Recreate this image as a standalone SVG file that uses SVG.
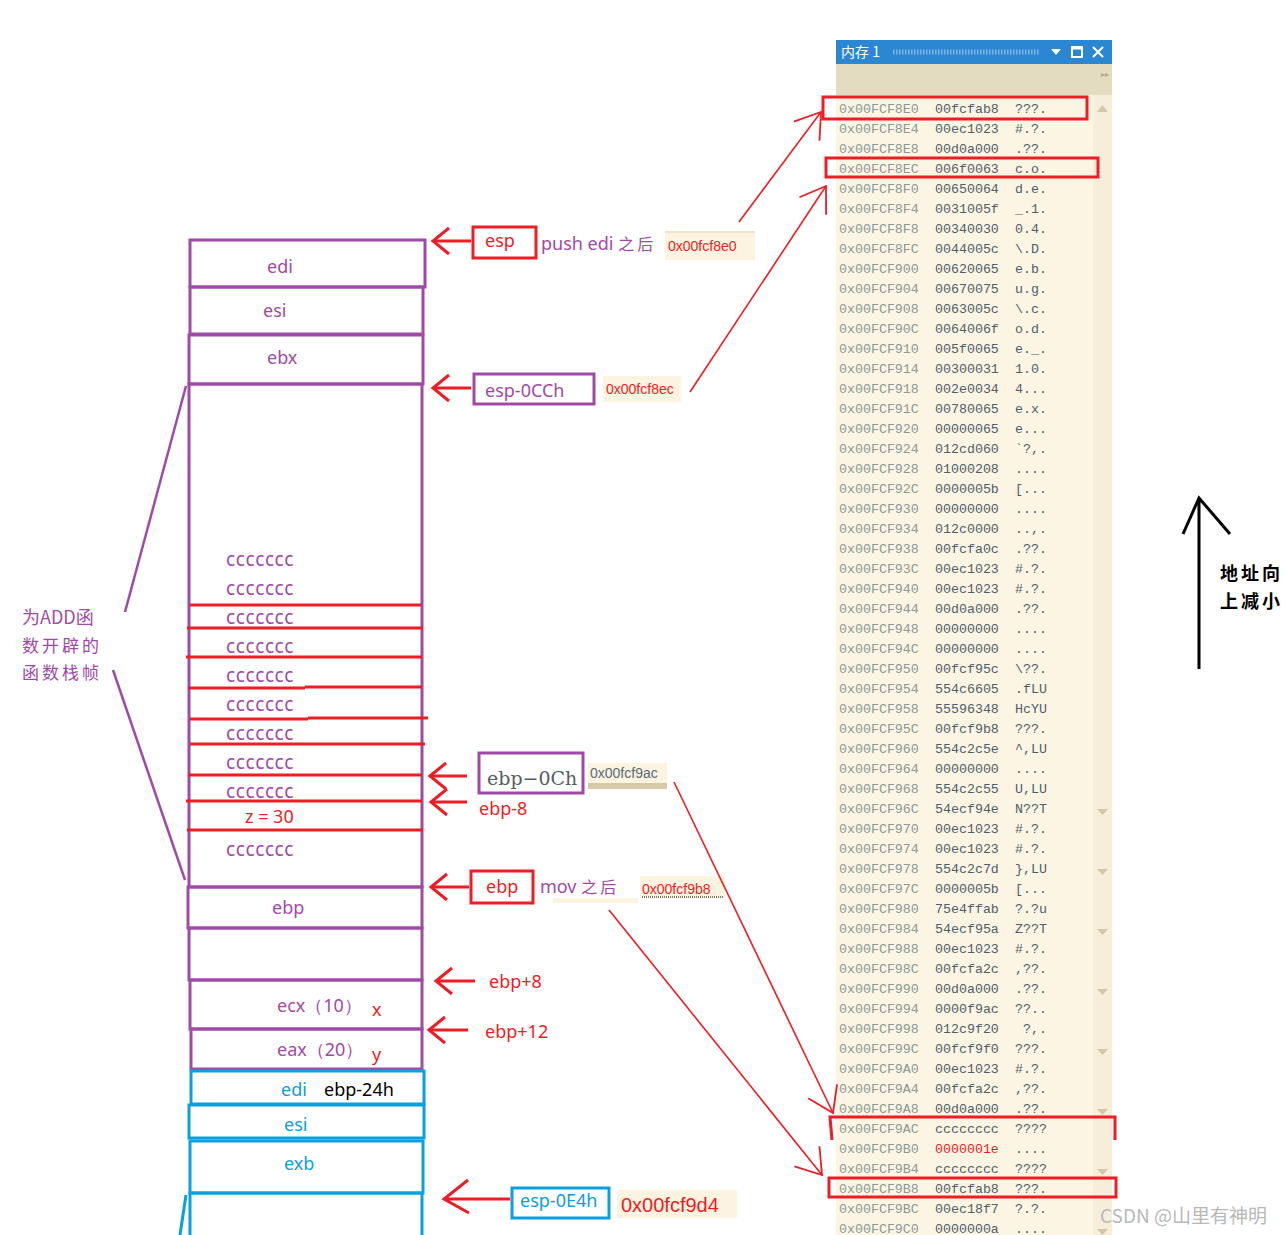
<svg xmlns="http://www.w3.org/2000/svg" width="1286" height="1235" viewBox="0 0 1286 1235">
<defs>
<style>
.pu{fill:none;stroke:#a04aa8;stroke-width:3}
.bl{fill:none;stroke:#0aa0e0;stroke-width:3}
.rl{fill:none;stroke:#ee1c25;stroke-width:3}
.rt{fill:none;stroke:#ee1c25;stroke-width:1.6}
.ptx{font-family:"Noto Sans","Liberation Sans",sans-serif;font-size:18px;fill:#a04aa8}
.rtx{font-family:"Noto Sans","Liberation Sans",sans-serif;font-size:18px;fill:#ee1c25}
.btx{font-family:"Noto Sans","Liberation Sans",sans-serif;font-size:18px;fill:#0aa0e0}
.cc{font-family:"Noto Sans","Liberation Sans",sans-serif;font-size:19px;fill:#a04aa8;letter-spacing:0.6px}
.addr{font-family:"Liberation Mono",monospace;font-size:13.3px;fill:#8a9898}
.val{font-family:"Liberation Mono",monospace;font-size:13.3px;fill:#4e5e6a}
.asc{font-family:"Liberation Mono",monospace;font-size:13.3px;fill:#4e5e6a}
.hx{font-family:"Liberation Sans",sans-serif;font-size:14px;fill:#ee1c25}
.cj{font-family:"Noto Sans CJK SC",sans-serif}
.cream{fill:#fcf4e0}
.tri{fill:#d2c8a8}
</style>
<marker id="la" markerUnits="userSpaceOnUse" markerWidth="40" markerHeight="40" refX="0" refY="0" viewBox="-20 -20 40 40" orient="auto" overflow="visible">
<path d="M-16,-13 L0,0 L-16,13" fill="none" stroke="#ee1c25" stroke-width="3"/>
</marker>
<marker id="ta" markerUnits="userSpaceOnUse" markerWidth="60" markerHeight="60" refX="0" refY="0" viewBox="-30 -30 60 60" orient="auto" overflow="visible">
<path d="M-24,-16 L0,0 L-24,16" fill="none" stroke="#ee1c25" stroke-width="1.8"/>
</marker>
</defs>
<rect width="1286" height="1235" fill="#ffffff"/>

<!-- memory window -->
<g id="memwin">
<rect x="836" y="40" width="276" height="24" fill="#2b87d2"/>
<text x="841" y="57" font-family="'Noto Sans CJK SC','Noto Sans',sans-serif" font-size="14" fill="#ffffff">内存 1</text>
<line x1="893" y1="52" x2="1040" y2="52" stroke="#7fb4e4" stroke-width="5" stroke-dasharray="1.5 1.5"/>
<path d="M1051,49 L1061,49 L1056,55 Z" fill="#ffffff"/>
<rect x="1072" y="47" width="10" height="10" fill="none" stroke="#ffffff" stroke-width="2"/>
<line x1="1072" y1="48" x2="1082" y2="48" stroke="#ffffff" stroke-width="3"/>
<path d="M1093,47 L1103,57 M1103,47 L1093,57" stroke="#ffffff" stroke-width="2"/>
<rect x="836" y="64" width="276" height="31" fill="#e4dcc0"/>
<text x="1101" y="77" font-family="'Liberation Sans',sans-serif" font-size="8" fill="#b0a888">▸▸</text>
<rect x="836" y="95" width="276" height="1140" fill="#fcf5e3"/>
<rect x="1093" y="95" width="19" height="1140" fill="#f6eedb"/>
<path d="M1097,112 L1108,112 L1102.5,105 Z" class="tri"/>
<path d="M1097,809 L1108,809 L1102.5,815 Z" class="tri"/>
<path d="M1097,869 L1108,869 L1102.5,875 Z" class="tri"/>
<path d="M1097,929 L1108,929 L1102.5,935 Z" class="tri"/>
<path d="M1097,989 L1108,989 L1102.5,995 Z" class="tri"/>
<path d="M1097,1049 L1108,1049 L1102.5,1055 Z" class="tri"/>
<path d="M1097,1109 L1108,1109 L1102.5,1115 Z" class="tri"/>
<path d="M1097,1169 L1108,1169 L1102.5,1175 Z" class="tri"/>
<path d="M1097,1229 L1108,1229 L1102.5,1235 Z" class="tri"/>
<g transform="translate(0,113)">
<text class="addr" x="839" y="0">0x00FCF8E0</text><text class="val" x="935" y="0">00fcfab8</text><text class="asc" x="1015" y="0">???.</text>
<text class="addr" x="839" y="20">0x00FCF8E4</text><text class="val" x="935" y="20">00ec1023</text><text class="asc" x="1015" y="20">#.?.</text>
<text class="addr" x="839" y="40">0x00FCF8E8</text><text class="val" x="935" y="40">00d0a000</text><text class="asc" x="1015" y="40">.??.</text>
<text class="addr" x="839" y="60">0x00FCF8EC</text><text class="val" x="935" y="60">006f0063</text><text class="asc" x="1015" y="60">c.o.</text>
<text class="addr" x="839" y="80">0x00FCF8F0</text><text class="val" x="935" y="80">00650064</text><text class="asc" x="1015" y="80">d.e.</text>
<text class="addr" x="839" y="100">0x00FCF8F4</text><text class="val" x="935" y="100">0031005f</text><text class="asc" x="1015" y="100">_.1.</text>
<text class="addr" x="839" y="120">0x00FCF8F8</text><text class="val" x="935" y="120">00340030</text><text class="asc" x="1015" y="120">0.4.</text>
<text class="addr" x="839" y="140">0x00FCF8FC</text><text class="val" x="935" y="140">0044005c</text><text class="asc" x="1015" y="140">\.D.</text>
<text class="addr" x="839" y="160">0x00FCF900</text><text class="val" x="935" y="160">00620065</text><text class="asc" x="1015" y="160">e.b.</text>
<text class="addr" x="839" y="180">0x00FCF904</text><text class="val" x="935" y="180">00670075</text><text class="asc" x="1015" y="180">u.g.</text>
<text class="addr" x="839" y="200">0x00FCF908</text><text class="val" x="935" y="200">0063005c</text><text class="asc" x="1015" y="200">\.c.</text>
<text class="addr" x="839" y="220">0x00FCF90C</text><text class="val" x="935" y="220">0064006f</text><text class="asc" x="1015" y="220">o.d.</text>
<text class="addr" x="839" y="240">0x00FCF910</text><text class="val" x="935" y="240">005f0065</text><text class="asc" x="1015" y="240">e._.</text>
<text class="addr" x="839" y="260">0x00FCF914</text><text class="val" x="935" y="260">00300031</text><text class="asc" x="1015" y="260">1.0.</text>
<text class="addr" x="839" y="280">0x00FCF918</text><text class="val" x="935" y="280">002e0034</text><text class="asc" x="1015" y="280">4...</text>
<text class="addr" x="839" y="300">0x00FCF91C</text><text class="val" x="935" y="300">00780065</text><text class="asc" x="1015" y="300">e.x.</text>
<text class="addr" x="839" y="320">0x00FCF920</text><text class="val" x="935" y="320">00000065</text><text class="asc" x="1015" y="320">e...</text>
<text class="addr" x="839" y="340">0x00FCF924</text><text class="val" x="935" y="340">012cd060</text><text class="asc" x="1015" y="340">`?,.</text>
<text class="addr" x="839" y="360">0x00FCF928</text><text class="val" x="935" y="360">01000208</text><text class="asc" x="1015" y="360">....</text>
<text class="addr" x="839" y="380">0x00FCF92C</text><text class="val" x="935" y="380">0000005b</text><text class="asc" x="1015" y="380">[...</text>
<text class="addr" x="839" y="400">0x00FCF930</text><text class="val" x="935" y="400">00000000</text><text class="asc" x="1015" y="400">....</text>
<text class="addr" x="839" y="420">0x00FCF934</text><text class="val" x="935" y="420">012c0000</text><text class="asc" x="1015" y="420">..,.</text>
<text class="addr" x="839" y="440">0x00FCF938</text><text class="val" x="935" y="440">00fcfa0c</text><text class="asc" x="1015" y="440">.??.</text>
<text class="addr" x="839" y="460">0x00FCF93C</text><text class="val" x="935" y="460">00ec1023</text><text class="asc" x="1015" y="460">#.?.</text>
<text class="addr" x="839" y="480">0x00FCF940</text><text class="val" x="935" y="480">00ec1023</text><text class="asc" x="1015" y="480">#.?.</text>
<text class="addr" x="839" y="500">0x00FCF944</text><text class="val" x="935" y="500">00d0a000</text><text class="asc" x="1015" y="500">.??.</text>
<text class="addr" x="839" y="520">0x00FCF948</text><text class="val" x="935" y="520">00000000</text><text class="asc" x="1015" y="520">....</text>
<text class="addr" x="839" y="540">0x00FCF94C</text><text class="val" x="935" y="540">00000000</text><text class="asc" x="1015" y="540">....</text>
<text class="addr" x="839" y="560">0x00FCF950</text><text class="val" x="935" y="560">00fcf95c</text><text class="asc" x="1015" y="560">\??.</text>
<text class="addr" x="839" y="580">0x00FCF954</text><text class="val" x="935" y="580">554c6605</text><text class="asc" x="1015" y="580">.fLU</text>
<text class="addr" x="839" y="600">0x00FCF958</text><text class="val" x="935" y="600">55596348</text><text class="asc" x="1015" y="600">HcYU</text>
<text class="addr" x="839" y="620">0x00FCF95C</text><text class="val" x="935" y="620">00fcf9b8</text><text class="asc" x="1015" y="620">???.</text>
<text class="addr" x="839" y="640">0x00FCF960</text><text class="val" x="935" y="640">554c2c5e</text><text class="asc" x="1015" y="640">^,LU</text>
<text class="addr" x="839" y="660">0x00FCF964</text><text class="val" x="935" y="660">00000000</text><text class="asc" x="1015" y="660">....</text>
<text class="addr" x="839" y="680">0x00FCF968</text><text class="val" x="935" y="680">554c2c55</text><text class="asc" x="1015" y="680">U,LU</text>
<text class="addr" x="839" y="700">0x00FCF96C</text><text class="val" x="935" y="700">54ecf94e</text><text class="asc" x="1015" y="700">N??T</text>
<text class="addr" x="839" y="720">0x00FCF970</text><text class="val" x="935" y="720">00ec1023</text><text class="asc" x="1015" y="720">#.?.</text>
<text class="addr" x="839" y="740">0x00FCF974</text><text class="val" x="935" y="740">00ec1023</text><text class="asc" x="1015" y="740">#.?.</text>
<text class="addr" x="839" y="760">0x00FCF978</text><text class="val" x="935" y="760">554c2c7d</text><text class="asc" x="1015" y="760">},LU</text>
<text class="addr" x="839" y="780">0x00FCF97C</text><text class="val" x="935" y="780">0000005b</text><text class="asc" x="1015" y="780">[...</text>
<text class="addr" x="839" y="800">0x00FCF980</text><text class="val" x="935" y="800">75e4ffab</text><text class="asc" x="1015" y="800">?.?u</text>
<text class="addr" x="839" y="820">0x00FCF984</text><text class="val" x="935" y="820">54ecf95a</text><text class="asc" x="1015" y="820">Z??T</text>
<text class="addr" x="839" y="840">0x00FCF988</text><text class="val" x="935" y="840">00ec1023</text><text class="asc" x="1015" y="840">#.?.</text>
<text class="addr" x="839" y="860">0x00FCF98C</text><text class="val" x="935" y="860">00fcfa2c</text><text class="asc" x="1015" y="860">,??.</text>
<text class="addr" x="839" y="880">0x00FCF990</text><text class="val" x="935" y="880">00d0a000</text><text class="asc" x="1015" y="880">.??.</text>
<text class="addr" x="839" y="900">0x00FCF994</text><text class="val" x="935" y="900">0000f9ac</text><text class="asc" x="1015" y="900">??..</text>
<text class="addr" x="839" y="920">0x00FCF998</text><text class="val" x="935" y="920">012c9f20</text><text class="asc" x="1015" y="920" xml:space="preserve"> ?,.</text>
<text class="addr" x="839" y="940">0x00FCF99C</text><text class="val" x="935" y="940">00fcf9f0</text><text class="asc" x="1015" y="940">???.</text>
<text class="addr" x="839" y="960">0x00FCF9A0</text><text class="val" x="935" y="960">00ec1023</text><text class="asc" x="1015" y="960">#.?.</text>
<text class="addr" x="839" y="980">0x00FCF9A4</text><text class="val" x="935" y="980">00fcfa2c</text><text class="asc" x="1015" y="980">,??.</text>
<text class="addr" x="839" y="1000">0x00FCF9A8</text><text class="val" x="935" y="1000">00d0a000</text><text class="asc" x="1015" y="1000">.??.</text>
<text class="addr" x="839" y="1020">0x00FCF9AC</text><text class="val" x="935" y="1020">cccccccc</text><text class="asc" x="1015" y="1020">????</text>
<text class="addr" x="839" y="1040">0x00FCF9B0</text><text class="val" x="935" y="1040" style="fill:#ee1c25">0000001e</text><text class="asc" x="1015" y="1040">....</text>
<text class="addr" x="839" y="1060">0x00FCF9B4</text><text class="val" x="935" y="1060">cccccccc</text><text class="asc" x="1015" y="1060">????</text>
<text class="addr" x="839" y="1080">0x00FCF9B8</text><text class="val" x="935" y="1080">00fcfab8</text><text class="asc" x="1015" y="1080">???.</text>
<text class="addr" x="839" y="1100">0x00FCF9BC</text><text class="val" x="935" y="1100">00ec18f7</text><text class="asc" x="1015" y="1100">?.?.</text>
<text class="addr" x="839" y="1120">0x00FCF9C0</text><text class="val" x="935" y="1120">0000000a</text><text class="asc" x="1015" y="1120">....</text>
</g>
<rect x="823" y="97" width="264" height="22" class="rl"/>
<rect x="826" y="158" width="272" height="19" class="rl"/>
<path d="M832,1140 L830,1117 L1115,1117 L1115,1140" class="rl"/>
<rect x="829" y="1178" width="287" height="19" class="rl"/>
</g>

<!-- stack frame -->
<g id="stack-top">
<rect x="190" y="240" width="235" height="47" class="pu"/>
<text class="ptx" x="267" y="273">edi</text>
<rect x="190" y="287" width="233" height="47" class="pu"/>
<text class="ptx" x="263" y="317">esi</text>
<rect x="189" y="335" width="234" height="49" class="pu"/>
<text class="ptx" x="267" y="364">ebx</text>
</g>
<g id="stack-locals">
<rect x="189" y="384" width="233" height="503" class="pu"/>
<g class="rl">
<line x1="190" y1="605" x2="421" y2="605"/>
<line x1="187" y1="628" x2="423" y2="628"/>
<line x1="186" y1="657" x2="422" y2="657"/>
<line x1="188" y1="688" x2="305" y2="688"/><line x1="305" y1="687" x2="422" y2="687"/>
<line x1="190" y1="719" x2="308" y2="719"/><line x1="308" y1="718" x2="428" y2="718"/>
<line x1="190" y1="744" x2="308" y2="744"/><line x1="308" y1="744" x2="425" y2="744"/>
<line x1="188" y1="775" x2="422" y2="775"/>
<line x1="186" y1="801" x2="422" y2="801"/>
<line x1="187" y1="830" x2="423" y2="830"/>
</g>
<text class="cc" x="226" y="566">ccccccc</text>
<text class="cc" x="226" y="595">ccccccc</text>
<text class="cc" x="226" y="624">ccccccc</text>
<text class="cc" x="226" y="653">ccccccc</text>
<text class="cc" x="226" y="682">ccccccc</text>
<text class="cc" x="226" y="711">ccccccc</text>
<text class="cc" x="226" y="740">ccccccc</text>
<text class="cc" x="226" y="769">ccccccc</text>
<text class="cc" x="226" y="798">ccccccc</text>
<text class="rtx" x="245" y="823" font-size="19">z = 30</text>
<text class="cc" x="226" y="856">ccccccc</text>
</g>
<g id="stack-ebp">
<rect x="188" y="887" width="234" height="41" class="pu"/>
<text class="ptx" x="272" y="914">ebp</text>
<rect x="189" y="928" width="233" height="52" class="pu"/>
</g>
<g id="stack-args">
<rect x="190" y="980" width="232" height="49" class="pu"/>
<text class="ptx" x="277" y="1012">ecx（10）</text>
<text class="rtx" x="372" y="1016">x</text>
<rect x="191" y="1029" width="231" height="40" class="pu"/>
<text class="ptx" x="277" y="1056">eax（20）</text>
<text class="rtx" x="372" y="1061">y</text>
</g>
<g id="stack-main">
<rect x="191" y="1071" width="233" height="33" class="bl"/>
<text class="btx" x="281" y="1096">edi</text>
<text x="324" y="1096" font-family="'Noto Sans','Liberation Sans',sans-serif" font-size="18" fill="#000">ebp-24h</text>
<rect x="189" y="1105" width="235" height="33" class="bl"/>
<text class="btx" x="284" y="1131">esi</text>
<rect x="190" y="1141" width="233" height="52" class="bl"/>
<text class="btx" x="284" y="1170">exb</text>
<path d="M190,1236 L190,1193 L422,1193 L422,1236" class="bl"/>
<path d="M186,1195 L180,1235" class="bl" stroke-width="2"/>
</g>

<!-- labels -->
<g id="lbl-esp">
<rect x="473" y="227" width="63" height="31" class="rl"/>
<text class="rtx" x="485" y="247">esp</text>
<text class="ptx" x="541" y="250">push edi <tspan class="cj" font-size="16" letter-spacing="3">之后</tspan></text>
<rect x="665" y="231" width="90" height="29" class="cream"/>
<line x1="665" y1="232" x2="755" y2="232" stroke="#ddd3b8" stroke-width="1"/>
<text class="hx" x="668" y="251">0x00fcf8e0</text>
</g>
<g id="lbl-esp0cc">
<rect x="474" y="374" width="120" height="30" class="pu"/>
<text class="ptx" x="485" y="397" font-size="19">esp-0CCh</text>
<rect x="603" y="376" width="78" height="26" class="cream"/>
<text class="hx" x="606" y="394">0x00fcf8ec</text>
</g>
<g id="lbl-ebp0c">
<rect x="479" y="753" width="104" height="40" class="pu"/>
<text x="487" y="785" font-family="'DejaVu Serif','Liberation Serif',serif" font-size="19" fill="#555d66">ebp−0Ch</text>
<rect x="588" y="763" width="79" height="26" class="cream"/>
<rect x="588" y="783" width="79" height="6" fill="#d6c9a6"/>
<text x="590" y="778" font-family="'Liberation Sans',sans-serif" font-size="14" fill="#5a6a7a">0x00fcf9ac</text>
<text class="rtx" x="479" y="815">ebp-8</text>
</g>
<g id="lbl-ebp">
<rect x="471" y="871" width="62" height="32" class="rl"/>
<text class="rtx" x="486" y="893">ebp</text>
<rect x="553" y="898" width="85" height="5" class="cream"/>
<text class="ptx" x="540" y="893">mov <tspan class="cj" font-size="16" letter-spacing="3">之后</tspan></text>
<rect x="640" y="876" width="85" height="22" class="cream"/>
<text class="hx" x="642" y="894">0x00fcf9b8</text>
<line x1="642" y1="897" x2="724" y2="897" stroke="#000" stroke-width="1" stroke-dasharray="1 1"/>
</g>
<g id="lbl-args">
<text class="rtx" x="489" y="988">ebp+8</text>
<text class="rtx" x="485" y="1038">ebp+12</text>
</g>
<g id="lbl-esp0e4">
<rect x="512" y="1188" width="97" height="30" class="bl"/>
<text class="btx" x="520" y="1207">esp-0E4h</text>
<rect x="617" y="1190" width="120" height="28" class="cream"/>
<text x="621" y="1212" font-family="'Liberation Sans',sans-serif" font-size="20" fill="#ee1c25">0x00fcf9d4</text>
</g>
<g id="note-frame">
<text x="22" y="624" class="cj" font-size="18" fill="#a04aa8">为ADD函</text>
<text x="22" y="652" class="cj" font-size="17" fill="#a04aa8" letter-spacing="3">数开辟的</text>
<text x="22" y="679" class="cj" font-size="17" fill="#a04aa8" letter-spacing="3">函数栈帧</text>
</g>
<g id="note-addr">
<path d="M1199,669 L1199,498 M1183,534 L1199,498 L1230,534" fill="none" stroke="#000" stroke-width="3"/>
<text x="1220" y="580" class="cj" font-size="18" font-weight="bold" fill="#000" letter-spacing="3">地址向</text>
<text x="1220" y="608" class="cj" font-size="18" font-weight="bold" fill="#000" letter-spacing="3">上减小</text>
</g>

<!-- connectors -->
<g id="connectors">
<line x1="471" y1="241" x2="433" y2="241" class="rl" marker-end="url(#la)"/>
<line x1="471" y1="388" x2="433" y2="388" class="rl" marker-end="url(#la)"/>
<line x1="467" y1="776" x2="430" y2="776" class="rl" marker-end="url(#la)"/>
<line x1="467" y1="802" x2="431" y2="802" class="rl" marker-end="url(#la)"/>
<line x1="469" y1="887" x2="431" y2="887" class="rl" marker-end="url(#la)"/>
<line x1="475" y1="981" x2="436" y2="981" class="rl" marker-end="url(#la)"/>
<line x1="468" y1="1030" x2="429" y2="1030" class="rl" marker-end="url(#la)"/>
<path d="M510,1199 L444,1199 M468,1180 L444,1199 L469,1213" class="rl"/>
<line x1="739" y1="222" x2="821" y2="112" class="rt" marker-end="url(#ta)"/>
<line x1="690" y1="392" x2="826" y2="186" class="rt" marker-end="url(#ta)"/>
<line x1="674" y1="782" x2="833" y2="1113" class="rt" marker-end="url(#ta)"/>
<line x1="609" y1="910" x2="822" y2="1175" class="rt" marker-end="url(#ta)"/>
<line x1="186" y1="386" x2="125" y2="612" stroke="#a04aa8" stroke-width="2.5"/>
<line x1="113" y1="670" x2="185" y2="880" stroke="#a04aa8" stroke-width="2.5"/>
</g>
<text x="1100" y="1223" font-family="'Noto Sans CJK SC','Noto Sans',sans-serif" font-size="19" fill="#b8b8b8">CSDN @山里有神明</text>
</svg>
